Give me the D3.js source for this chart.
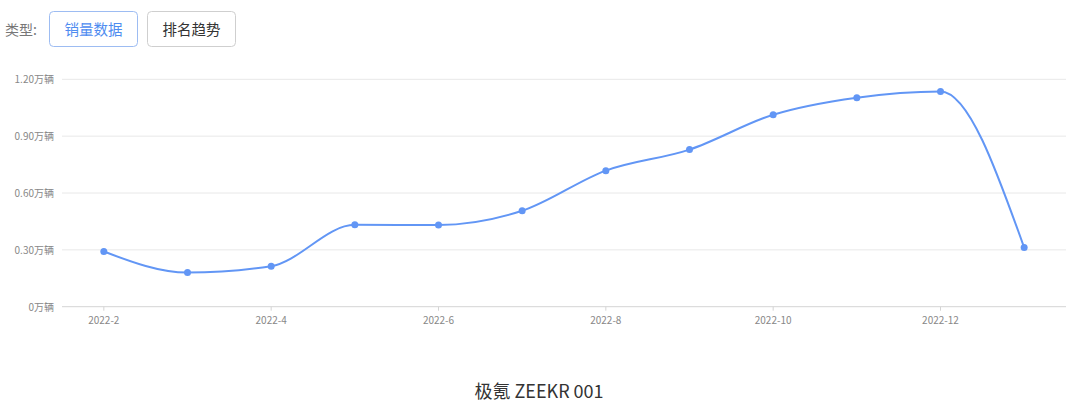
<!DOCTYPE html>
<html>
<head>
<meta charset="utf-8">
<script src="https://cdn.jsdelivr.net/npm/d3@7.9.0/dist/d3.min.js"></script>
<style>
  body { margin: 0; background: #fff; font-family: "Noto Sans CJK SC", "Noto Sans", sans-serif; }
  svg { display: block; }
</style>
</head>
<body>
<svg id="chart" width="1080" height="407"></svg>
<script>
const months = ["2022-2", "2022-3", "2022-4", "2022-5", "2022-6", "2022-7",
  "2022-8", "2022-9", "2022-10", "2022-11", "2022-12", "2023-1"];
const sales = [0.291, 0.18, 0.214, 0.432, 0.431, 0.506, 0.718, 0.829, 1.013, 1.103, 1.136, 0.312];
const yTicks = [0, 0.3, 0.6, 0.9, 1.2];
const labelEvery = 2;

const svg = d3.select("#chart");
const plotLeft = 62, plotRight = 1066, plotTop = 79.3, plotBottom = 306.7;
const blue = "#6296f5";

// type switch buttons
svg.append("text").attr("x", 5).attr("y", 35).attr("font-size", 14)
  .attr("fill", "#777").text("类型:");
const buttons = [
  { label: "销量数据", x: 49.5, active: true },
  { label: "排名趋势", x: 147.5, active: false }
];
buttons.forEach(b => {
  svg.append("rect").attr("x", b.x).attr("y", 11.5).attr("width", 88).attr("height", 35)
    .attr("rx", 4).attr("fill", "#fff")
    .attr("stroke", b.active ? "#9dbcf2" : "#cfcfcf");
  svg.append("text").attr("x", b.x + 44).attr("y", 34.5).attr("text-anchor", "middle")
    .attr("font-size", 14.5).attr("fill", b.active ? "#4e8cf0" : "#333").text(b.label);
});

const x = d3.scaleBand().domain(months).range([plotLeft, plotRight]);
const y = d3.scaleLinear().domain([0, 1.2]).range([plotBottom, plotTop]);
const cx = d => x(d) + x.bandwidth() / 2;

// grid
svg.append("g").selectAll("line").data(yTicks).join("line")
  .attr("x1", plotLeft).attr("x2", plotRight)
  .attr("y1", d => y(d)).attr("y2", d => y(d))
  .attr("stroke", d => d === 0 ? "#d4d4d4" : "#e8e8e8").attr("stroke-width", 1);

// y labels
svg.append("g").selectAll("text").data(yTicks).join("text")
  .attr("x", 54).attr("y", d => y(d) + 4)
  .attr("text-anchor", "end").attr("font-size", 10).attr("fill", "#888")
  .text(d => (d === 0 ? "0" : d.toFixed(2)) + "万辆");

// x axis labels and ticks
const shown = months.filter((m, i) => i % labelEvery === 0 && i < months.length - 1);
const xg = svg.append("g");
xg.selectAll("line").data(shown).join("line")
  .attr("x1", d => cx(d)).attr("x2", d => cx(d))
  .attr("y1", plotBottom).attr("y2", plotBottom + 4).attr("stroke", "#d4d4d4");
xg.selectAll("text").data(shown).join("text")
  .attr("x", d => cx(d)).attr("y", plotBottom + 17)
  .attr("text-anchor", "middle").attr("font-size", 10).attr("fill", "#888")
  .text(d => d);

// line
const line = d3.line()
  .x((d, i) => cx(months[i]))
  .y(d => y(d))
  .curve(d3.curveMonotoneX);
svg.append("path").datum(sales).attr("d", line)
  .attr("fill", "none").attr("stroke", blue).attr("stroke-width", 2);

svg.append("g").selectAll("circle").data(sales).join("circle")
  .attr("cx", (d, i) => cx(months[i])).attr("cy", d => y(d))
  .attr("r", 3.5).attr("fill", blue);

// title
svg.append("text").attr("x", 539).attr("y", 398).attr("text-anchor", "middle")
  .attr("font-size", 18).attr("fill", "#333").text("极氪 ZEEKR 001");
</script>
</body>
</html>
